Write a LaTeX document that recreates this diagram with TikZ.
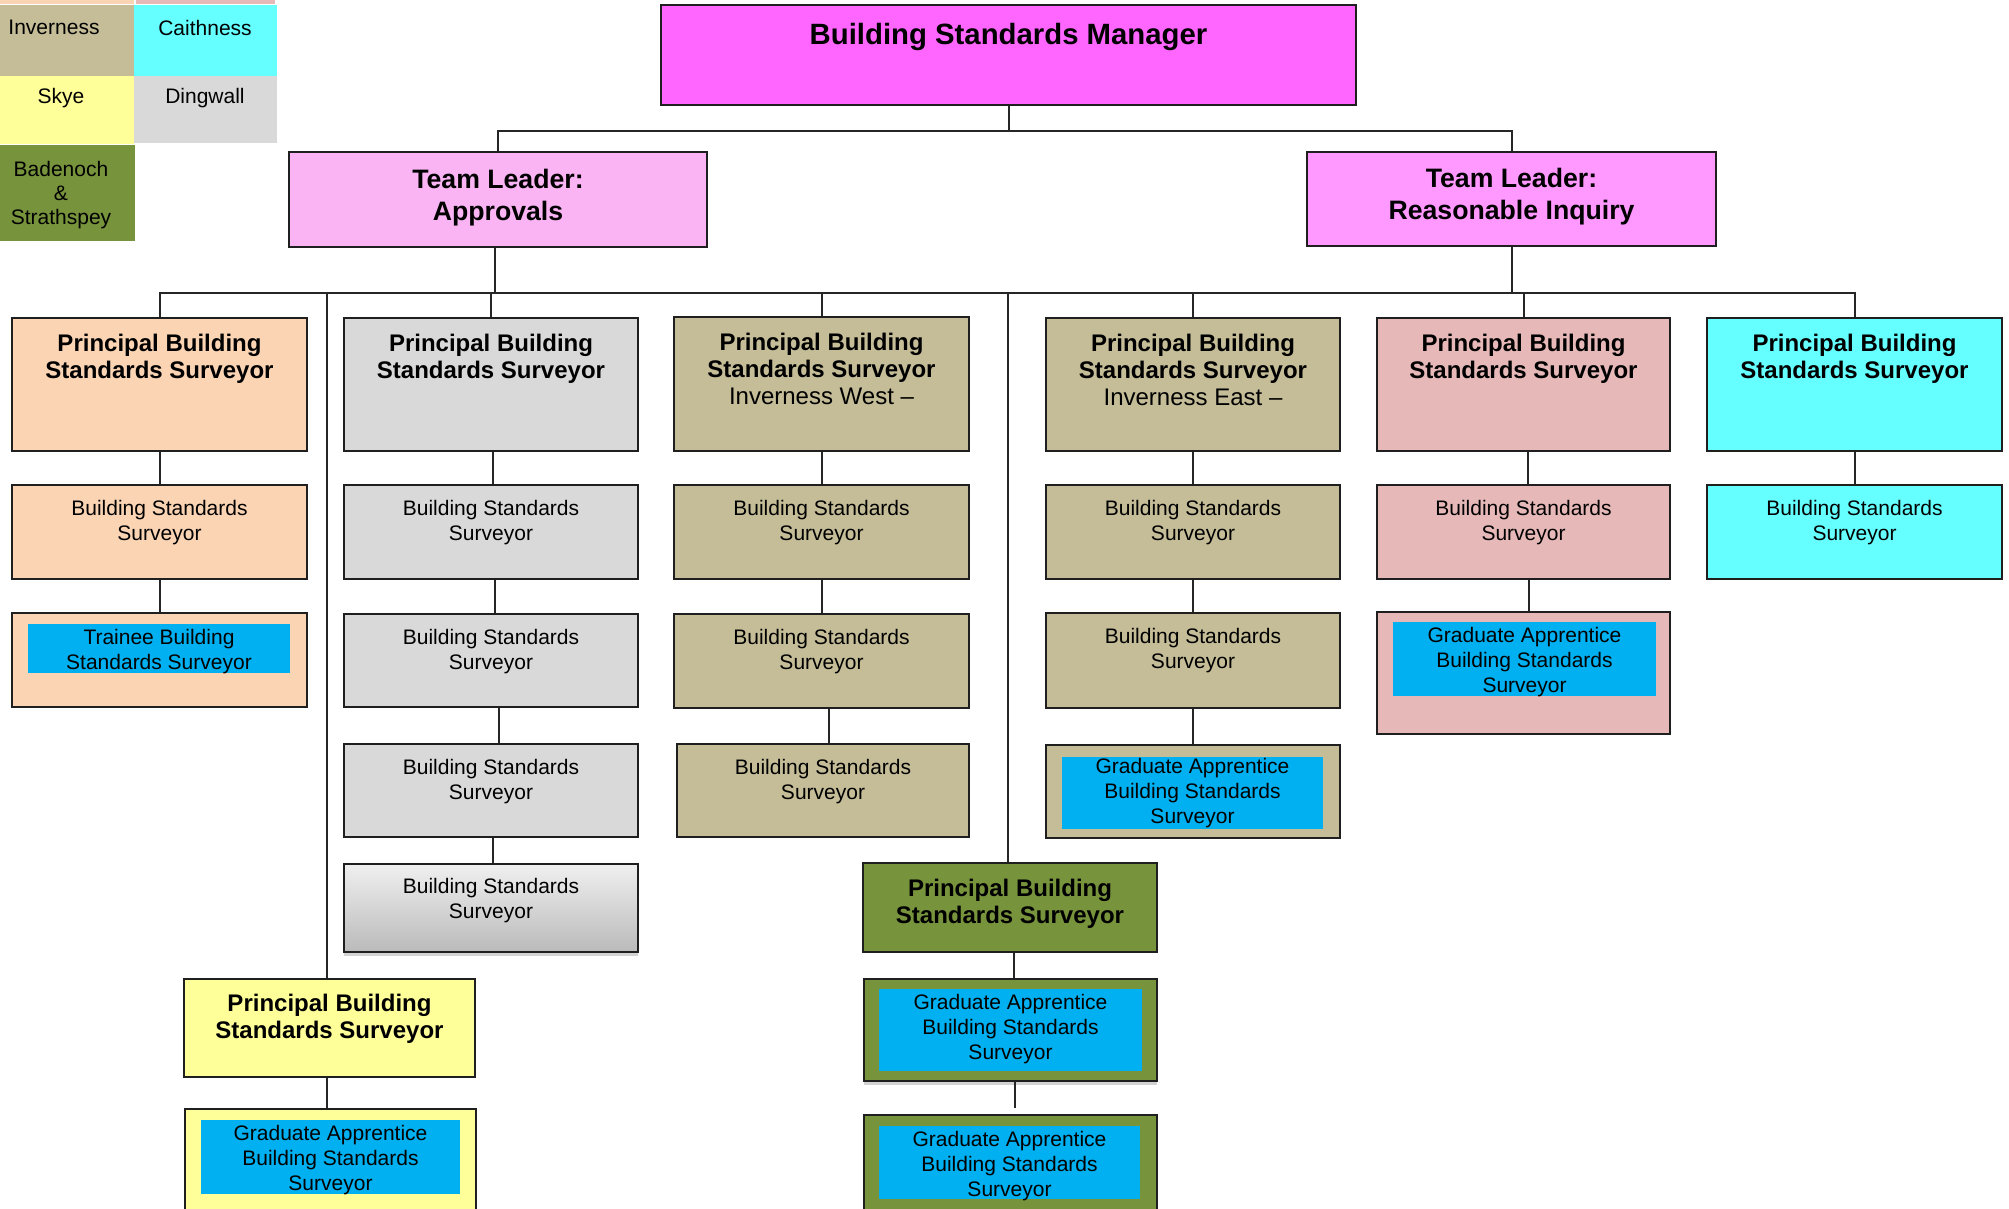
\documentclass[tikz,border=0pt]{standalone}
\usepackage{fontspec}
\setmainfont{Liberation Sans}
\usetikzlibrary{fit,calc,shadows}
\definecolor{mgr}{HTML}{FF66FF}
\definecolor{tlA}{HTML}{FAB4F4}
\definecolor{tlR}{HTML}{FF99FF}
\definecolor{peach}{HTML}{FBD4B4}
\definecolor{lgray}{HTML}{D9D9D9}
\definecolor{khaki}{HTML}{C4BD97}
\definecolor{rose}{HTML}{E6B9B8}
\definecolor{aqua}{HTML}{66FFFF}
\definecolor{lyellow}{HTML}{FFFF99}
\definecolor{olive}{HTML}{77933C}
\definecolor{gacyan}{HTML}{00B0F0}
\begin{document}
\begin{tikzpicture}[x=0.75pt,y=-0.75pt,
  box/.style={draw=black!88,line width=1.9pt,inner sep=0pt},
  flat/.style={inner sep=0pt,draw=none},
  conn/.style={draw=black!85,line width=1.5pt},
  btxt/.style={font=\fontsize{18}{20.25}\selectfont\bfseries,align=center,inner sep=0pt,anchor=north},
  rtxt/.style={font=\fontsize{15.75}{18.75}\selectfont,align=center,inner sep=0pt,anchor=north},
  ltxt/.style={font=\fontsize{15.75}{18}\selectfont,align=center,inner sep=0pt,anchor=north},
  tltxt/.style={font=\fontsize{20}{24}\selectfont\bfseries,align=center,inner sep=0pt,anchor=north},
  mtxt/.style={font=\fontsize{22}{26}\selectfont\bfseries,align=center,inner sep=0pt,anchor=north},
  shad/.style={drop shadow={shadow xshift=0pt,shadow yshift=-3pt,opacity=0.35}}
]
\useasboundingbox (0,0) rectangle (2009,1209);

% ---------- legend ----------
\node[flat,fill=peach,fit={(0,0) (134,4)}] (lgStripA) {};
\node[flat,fill=rose,fit={(136,0) (275,4)}] (lgStripB) {};
\node[flat,fill=khaki,fit={(0,5) (134,76)}] (lgInv) {};
\node[flat,fill=aqua,fit={(134,5) (277,76)}] (lgCai) {};
\node[flat,fill=lyellow,fit={(0,76) (134,144)}] (lgSky) {};
\node[flat,fill=lgray,fit={(134,76) (277,143)}] (lgDin) {};
\node[flat,fill=olive,fit={(0,145) (135,241)}] (lgBad) {};
\node[ltxt] (lgInvT) at (54,20) {Inverness};
\node[ltxt] (lgCaiT) at (205,20) {Caithness};
\node[ltxt] (lgSkyT) at (61,88) {Skye};
\node[ltxt] (lgDinT) at (205,88) {Dingwall};
\node[ltxt] (lgBadT) at (61,161) {Badenoch\\\&\\Strathspey};

% ---------- top levels ----------
\node[box,fill=mgr,fit={(661,5) (1356,105)}] (mgr) {};
\node[mtxt] (mgrT) at ($(mgr.north)+(0,19)$) {Building Standards Manager};
\node[box,fill=tlA,fit={(289,152) (707,247)}] (apr) {};
\node[tltxt] (aprT) at ($(apr.north)+(0,18)$) {Team Leader:\\Approvals};
\node[box,fill=tlR,fit={(1307,152) (1716,246)}] (rea) {};
\node[tltxt] (reaT) at ($(rea.north)+(0,17)$) {Team Leader:\\Reasonable Inquiry};

% ---------- principals ----------
\node[box,fill=peach,fit={(12,318) (307,451)}] (pPe) {};
\node[box,fill=lgray,fit={(344,318) (638,451)}] (pGr) {};
\node[box,fill=khaki,fit={(674,317) (969,451)}] (pWe) {};
\node[box,fill=khaki,fit={(1046,318) (1340,451)}] (pEa) {};
\node[box,fill=rose,fit={(1377,318) (1670,451)}] (pRo) {};
\node[box,fill=aqua,fit={(1707,318) (2002,451)}] (pAq) {};
\node[btxt] (pPeT) at ($(pPe.north)+(0,17)$) {Principal Building\\Standards Surveyor};
\node[btxt] (pGrT) at ($(pGr.north)+(0,17)$) {Principal Building\\Standards Surveyor};
\node[btxt] (pWeT) at ($(pWe.north)+(0,17)$) {Principal Building\\Standards Surveyor\\{\mdseries Inverness West --}};
\node[btxt] (pEaT) at ($(pEa.north)+(0,17)$) {Principal Building\\Standards Surveyor\\{\mdseries Inverness East --}};
\node[btxt] (pRoT) at ($(pRo.north)+(0,17)$) {Principal Building\\Standards Surveyor};
\node[btxt] (pAqT) at ($(pAq.north)+(0,17)$) {Principal Building\\Standards Surveyor};

% ---------- row 2 ----------
\node[box,fill=peach,fit={(12,485) (307,579)}] (s2Pe) {};
\node[box,fill=lgray,fit={(344,485) (638,579)}] (s2Gr) {};
\node[box,fill=khaki,fit={(674,485) (969,579)}] (s2We) {};
\node[box,fill=khaki,fit={(1046,485) (1340,579)}] (s2Ea) {};
\node[box,fill=rose,fit={(1377,485) (1670,579)}] (s2Ro) {};
\node[box,fill=aqua,fit={(1707,485) (2002,579)}] (s2Aq) {};
\foreach \n in {s2Pe,s2Gr,s2We,s2Ea,s2Ro,s2Aq}
  \node[rtxt] (\n T) at ($(\n.north)+(0,16)$) {Building Standards\\Surveyor};

% ---------- row 3 ----------
\node[box,fill=peach,fit={(12,613) (307,707)}] (s3Pe) {};
\node[flat,fill=gacyan,fit={(28,624) (290,673)}] (s3PeIn) {};
\node[rtxt] (s3PeT) at ($(s3PeIn.north)+(0,5)$) {Trainee Building\\Standards Surveyor};
\node[box,fill=lgray,fit={(344,614) (638,707)}] (s3Gr) {};
\node[box,fill=khaki,fit={(674,614) (969,708)}] (s3We) {};
\node[box,fill=khaki,fit={(1046,613) (1340,708)}] (s3Ea) {};
\foreach \n in {s3Gr,s3We,s3Ea}
  \node[rtxt] (\n T) at ($(\n.north)+(0,16)$) {Building Standards\\Surveyor};
\node[box,fill=rose,fit={(1377,612) (1670,734)}] (s3Ro) {};
\node[flat,fill=gacyan,fit={(1393,622) (1656,696)}] (s3RoIn) {};
\node[rtxt] (s3RoT) at ($(s3RoIn.north)+(0,5)$) {Graduate Apprentice\\Building Standards\\Surveyor};

% ---------- row 4 ----------
\node[box,fill=lgray,fit={(344,744) (638,837)}] (s4Gr) {};
\node[box,fill=khaki,fit={(677,744) (969,837)}] (s4We) {};
\foreach \n in {s4Gr,s4We}
  \node[rtxt] (\n T) at ($(\n.north)+(0,16)$) {Building Standards\\Surveyor};
\node[box,fill=khaki,fit={(1046,745) (1340,838)}] (s4Ea) {};
\node[flat,fill=gacyan,fit={(1062,757) (1323,829)}] (s4EaIn) {};
\node[rtxt] (s4EaT) at ($(s4EaIn.north)+(0,1)$) {Graduate Apprentice\\Building Standards\\Surveyor};

% ---------- row 5 ----------
\node[box,top color=black!6,bottom color=black!27,shad,fit={(344,864) (638,952)}] (s5Gr) {};
\node[rtxt] (s5GrT) at ($(s5Gr.north)+(0,15)$) {Building Standards\\Surveyor};

% ---------- Skye ----------
\node[box,fill=lyellow,fit={(184,979) (475,1077)}] (pSk) {};
\node[btxt] (pSkT) at ($(pSk.north)+(0,16)$) {Principal Building\\Standards Surveyor};
\node[box,fill=lyellow,fit={(185,1109) (476,1230)}] (gSk) {};
\node[flat,fill=gacyan,fit={(201,1120) (460,1194)}] (gSkIn) {};
\node[rtxt] (gSkT) at ($(gSkIn.north)+(0,5)$) {Graduate Apprentice\\Building Standards\\Surveyor};

% ---------- Badenoch ----------
\node[box,fill=olive,fit={(863,863) (1157,952)}] (pBa) {};
\node[btxt] (pBaT) at ($(pBa.north)+(0,17)$) {Principal Building\\Standards Surveyor};
\node[box,fill=olive,shad,fit={(864,979) (1157,1081)}] (gBa1) {};
\node[flat,fill=gacyan,fit={(879,989) (1142,1071)}] (gBa1In) {};
\node[rtxt] (gBa1T) at ($(gBa1In.north)+(0,5)$) {Graduate Apprentice\\Building Standards\\Surveyor};
\node[box,fill=olive,fit={(864,1115) (1157,1230)}] (gBa2) {};
\node[flat,fill=gacyan,fit={(879,1126) (1140,1199)}] (gBa2In) {};
\node[rtxt] (gBa2T) at ($(gBa2In.north)+(0,5)$) {Graduate Apprentice\\Building Standards\\Surveyor};

% ---------- connectors ----------
\coordinate (busA) at (0,131);
\coordinate (busB) at (0,293);
\coordinate (aprX) at ($(apr.south)+(-3,0)$);
\coordinate (skX) at ($(pSk.north)+(-3,0)$);
\coordinate (skY) at ($(pSk.south)+(-3,0)$);
\coordinate (baX) at ($(pBa.north)+(-2,0)$);
\coordinate (grA) at ($(pGr.south)+(2,0)$);
\coordinate (grB) at ($(s2Gr.south)+(4,0)$);
\coordinate (grC) at ($(s3Gr.south)+(8,0)$);
\coordinate (grD) at ($(s4Gr.south)+(2,0)$);
\coordinate (weC) at ($(s3We.south)+(7,0)$);
\coordinate (roA) at ($(pRo.south)+(4,0)$);
\coordinate (roB) at ($(s2Ro.south)+(5,0)$);
\coordinate (baA) at ($(pBa.south)+(4,0)$);
\coordinate (baB) at ($(gBa1.south)+(4,0)$);
\draw[conn] (mgr.south) -- (mgr.south |- busA);
\draw[conn] (apr.north) -- (apr.north |- busA) -- (rea.north |- busA) -- (rea.north);
\draw[conn] (aprX) -- (aprX |- busB);
\draw[conn] (rea.south) -- (rea.south |- busB);
\draw[conn] (pPe.north) -- (pPe.north |- busB) -- (pAq.north |- busB) -- (pAq.north);
\foreach \n in {pGr,pWe,pEa,pRo}
  \draw[conn] (\n.north) -- (\n.north |- busB);
\draw[conn] (skX) -- (skX |- busB);
\draw[conn] (baX) -- (baX |- busB);

\draw[conn] (pPe.south) -- (s2Pe.north);
\draw[conn] (s2Pe.south) -- (s3Pe.north);
\draw[conn] (grA) -- (grA |- s2Gr.north);
\draw[conn] (grB) -- (grB |- s3Gr.north);
\draw[conn] (grC) -- (grC |- s4Gr.north);
\draw[conn] (grD) -- (grD |- s5Gr.north);
\draw[conn] (pWe.south) -- (s2We.north);
\draw[conn] (s2We.south) -- (s3We.north);
\draw[conn] (weC) -- (weC |- s4We.north);
\draw[conn] (pEa.south) -- (s2Ea.north);
\draw[conn] (s2Ea.south) -- (s3Ea.north);
\draw[conn] (s3Ea.south) -- (s4Ea.north);
\draw[conn] (roA) -- (roA |- s2Ro.north);
\draw[conn] (roB) -- (roB |- s3Ro.north);
\draw[conn] (pAq.south) -- (s2Aq.north);
\draw[conn] (skY) -- (skY |- gSk.north);
\draw[conn] (baA) -- (baA |- gBa1.north);
\draw[conn] (baB) -- ($(baB |- gBa2.north)+(0,-6)$);
\end{tikzpicture}
\end{document}
